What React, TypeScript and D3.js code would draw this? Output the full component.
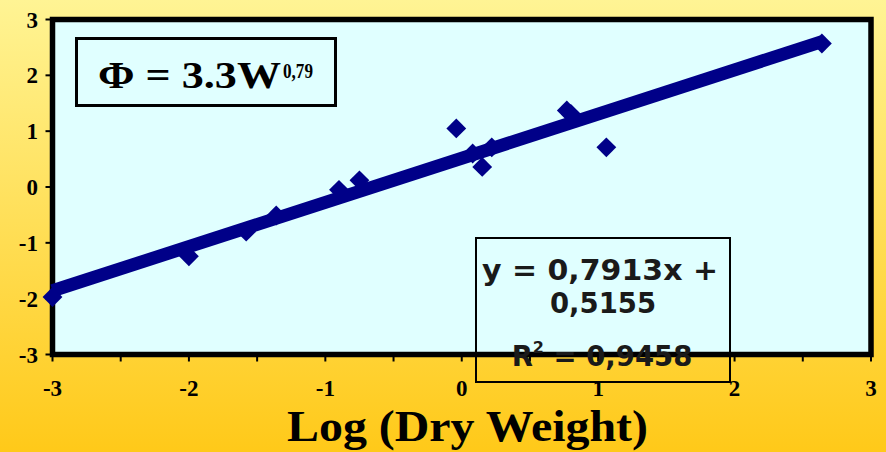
import React from "react";
import * as d3 from "d3";

// log dry weight vs log metabolic rate
const logWeight = [-3.0, -2.0, -1.58, -1.36, -0.9, -0.75, -0.04, 0.08, 0.15, 0.22, 0.77, 0.8, 1.06, 2.64];
const logPhi = [-1.97, -1.24, -0.8, -0.51, -0.05, 0.12, 1.05, 0.6, 0.36, 0.71, 1.37, 1.31, 0.71, 2.57];
const xTickValues = [-3, -2, -1, 0, 1, 2, 3];
const yTickValues = [-3, -2, -1, 0, 1, 2, 3];
const slope = 0.7913;
const intercept = 0.5155;

const W = 886;
const H = 452;
const serif = "Liberation Serif, Times New Roman, serif";

export default function App() {
  const x = d3.scaleLinear().domain([-3, 3]).range([52.5, 871]);
  const y = d3.scaleLinear().domain([-3, 3]).range([354.5, 19.5]);

  const xMin = d3.min(logWeight) as number;
  const xMax = d3.max(logWeight) as number;
  const trend = d3.line<number>()
    .x((d) => x(d))
    .y((d) => y(slope * d + intercept))([xMin, xMax]);

  const diamond = d3.symbol().type(d3.symbolDiamond2).size(250)();
  const minorTicks = d3.range(-3, 3.01, 0.5);

  return (
    <div style={{ position: "fixed", left: 0, top: 0 }}>
      <svg width={W} height={H} style={{ display: "block" }}>
        <defs>
          <linearGradient id="bg" x1="0" y1="0" x2="0" y2="1">
            <stop offset="0" stopColor="#FFF494" />
            <stop offset="1" stopColor="#FFC919" />
          </linearGradient>
        </defs>
        <rect width={W} height={H} fill="url(#bg)" />

        <rect
          x={x(-3)}
          y={y(3)}
          width={x(3) - x(-3)}
          height={y(-3) - y(3)}
          fill="#E0FFFF"
          stroke="#000"
          strokeWidth={5.5}
        />

        {yTickValues.map((t) => (
          <g key={"y" + t}>
            <line x1={x(-3) - 7} x2={x(-3)} y1={y(t)} y2={y(t)} stroke="#000" strokeWidth={2} />
            <text x={38} y={y(t)} dy="0.35em" textAnchor="end" fontFamily={serif} fontWeight="bold" fontSize={23}>
              {t}
            </text>
          </g>
        ))}

        {minorTicks.map((t) => (
          <line key={"xt" + t} x1={x(t)} x2={x(t)} y1={y(-3)} y2={y(-3) + 7} stroke="#000" strokeWidth={2} />
        ))}
        {xTickValues.map((t) => (
          <text key={"x" + t} x={x(t)} y={396} textAnchor="middle" fontFamily={serif} fontWeight="bold" fontSize={23}>
            {t}
          </text>
        ))}

        <path d={trend ?? ""} fill="none" stroke="#000088" strokeWidth={13} />
        {logWeight.map((d, i) => (
          <path key={i} d={diamond ?? ""} transform={`translate(${x(d)},${y(logPhi[i])})`} fill="#000088" />
        ))}

        <rect x={76.5} y={38.5} width={259} height={67} fill="none" stroke="#000" strokeWidth={3} />
        <g fontFamily={serif} fontWeight="bold" fill="#000">
          <text x={98} y={88} fontSize={38} textLength={183} lengthAdjust="spacingAndGlyphs">
            Φ = 3.3W
          </text>
          <text x={283} y={78} fontSize={21} textLength={30} lengthAdjust="spacingAndGlyphs">
            0,79
          </text>
        </g>

        <rect x={476} y={238} width={254} height={144} fill="none" stroke="#000" strokeWidth={2} />
        <g fontFamily="DejaVu Sans, Verdana, sans-serif" fontWeight="bold" fontSize={27.5} fill="#1a1a1a" textAnchor="middle">
          <text x={600} y={280} textLength={236} lengthAdjust="spacingAndGlyphs">y = 0,7913x +</text>
          <text x={603} y={313}>0,5155</text>
          <text x={602} y={366}>
            R<tspan fontSize={16} dy={-13}>2</tspan>
            <tspan dy={13}> = 0,9458</tspan>
          </text>
        </g>

        <text
          x={467.5}
          y={441}
          textAnchor="middle"
          fontFamily={serif}
          fontWeight="bold"
          fontSize={45}
          textLength={361}
          lengthAdjust="spacingAndGlyphs"
        >
          Log (Dry Weight)
        </text>
      </svg>
    </div>
  );
}
